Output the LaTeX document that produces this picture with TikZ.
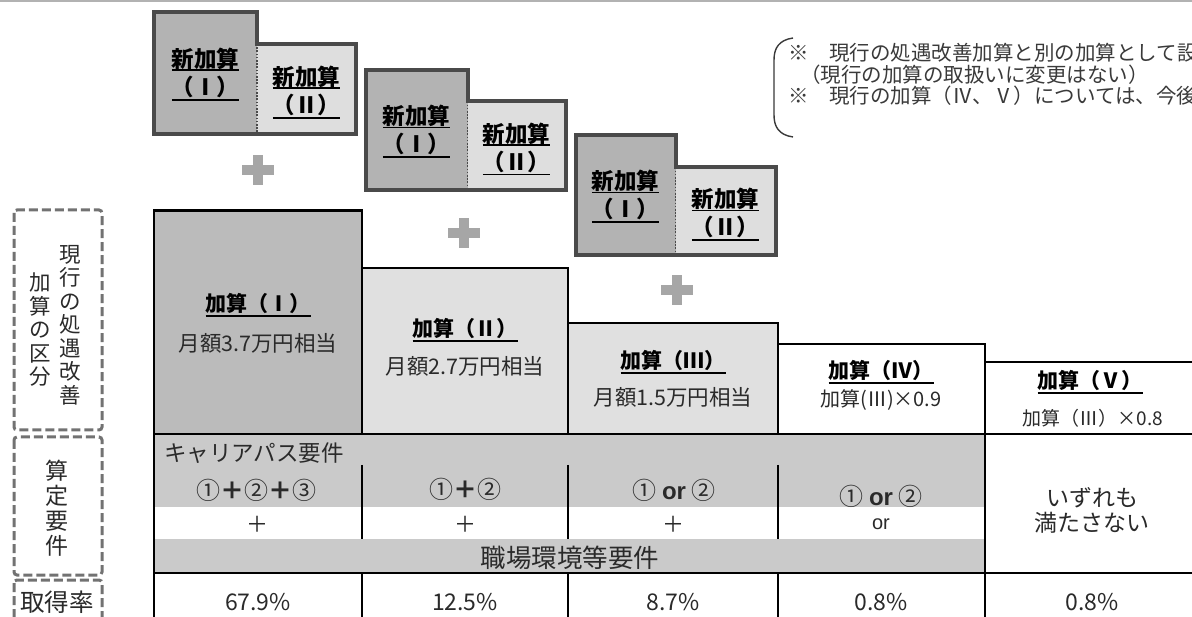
\documentclass[tikz,border=0pt]{standalone}
\usepackage{fontspec}
\setmainfont{Noto Sans CJK JP}
\newfontfamily\latinf{Liberation Sans}
\definecolor{dkfill}{HTML}{B3B3B3}
\definecolor{ltfill}{HTML}{DEDEDE}
\definecolor{gbord}{HTML}{4A4A4A}
\definecolor{band}{HTML}{CACACA}
\definecolor{plusc}{HTML}{A6A6A6}
\definecolor{dashc}{HTML}{727272}
\definecolor{txt}{HTML}{2A2A2A}
\definecolor{notec}{HTML}{3A3A3A}
\definecolor{boxI}{HTML}{BBBBBB}
\definecolor{boxL}{HTML}{E0E0E0}
\newcommand\fsz[2]{\fontsize{#1}{#2}\selectfont}
% underline with a heavier rule: #1 = drop below baseline, #2 = text
\newcommand\uln[2]{\setbox0\hbox{#2}\leavevmode\rlap{\vrule height -#1 depth \dimexpr #1+1.7pt\relax width \wd0}\box0}
\tikzset{
  newlbl/.style={font=\bfseries\fsz{22.5}{28}, align=center, inner sep=0pt, text=black},
  ttl/.style={font=\bfseries\fsz{21}{24}, inner sep=0pt, text=black},
  subl/.style={font=\fsz{21.5}{24}, inner sep=0pt, text=txt},
  cell/.style={font=\fsz{22}{25}, inner sep=0pt, text=txt, align=center},
  circ/.style={font=\fsz{24}{26}, inner sep=0pt, text=txt},
  grpbord/.style={draw=gbord, line width=4pt, line join=miter},
  mainbox/.style={draw=black, line width=2.8pt},
  rulel/.style={draw=black, line width=2.8pt},
  dashbox/.style={draw=dashc, line width=3pt, dash pattern=on 9pt off 4pt, rounded corners=3pt},
  vlabel/.style={font=\fsz{21.5}{23.5}, align=center, inner sep=0pt, text=txt},
  notel/.style={font=\fsz{20.5}{22}, anchor=west, inner sep=0pt, text=notec},
  plusbar/.style={fill=plusc},
}
% L, S, R, T, T2, B, name
\newcommand\addgroup[7]{%
  \fill[dkfill] (#1,#4) rectangle (#2,#6);
  \fill[ltfill] (#2,#5) rectangle (#3,#6);
  \draw[gbord, line width=1.6pt, dash pattern=on 1.6pt off 1.6pt] (#2,#5) -- (#2,#6);
  \draw[grpbord] (#1,#4) -- (#2,#4) -- (#2,#5) -- (#3,#5) -- (#3,#6) -- (#1,#6) -- cycle;
  \node[newlbl] (#7a) at ({(#1+#2)/2},{(#4+#6)/2+1}) {\uln{2pt}{新加算}\\\uln{3.5pt}{（Ⅰ）}};
  \node[newlbl] (#7b) at ({(#2+#3)/2},{(#5+#6)/2+3}) {\uln{2pt}{新加算}\\\uln{3.5pt}{（Ⅱ）}};
}
\newcommand\bigplus[2]{%
  \fill[plusbar] ({#1-16},{#2-5}) rectangle ({#1+16},{#2+5});
  \fill[plusbar] ({#1-5},{#2-15}) rectangle ({#1+5},{#2+15});
}
\begin{document}
\begin{tikzpicture}[x=1pt,y=-1pt]
\useasboundingbox (0,0) rectangle (1192,617);
\clip (0,0) rectangle (1192,617);
\fill[white] (0,0) rectangle (1192,617);
\draw[gray!60, line width=1.5pt] (0,0.8) -- (1192,0.8);

% new addition groups
\addgroup{154}{257}{356}{12}{44}{134.5}{ga}
\addgroup{365.5}{467.5}{565.5}{70.5}{101.5}{190.5}{gb}
\addgroup{575.5}{675.5}{775.5}{135.5}{167.5}{255.5}{gc}

\bigplus{258}{170}
\bigplus{464}{233}
\bigplus{677}{290}

% current addition boxes
\draw[mainbox, fill=boxI] (154,210.5) rectangle (362,434);
\draw[mainbox, fill=boxL] (362,268) rectangle (568,434);
\draw[mainbox, fill=boxL] (568,323) rectangle (778,434);
\draw[mainbox, fill=white] (778,344) rectangle (985,434);
\draw[mainbox, fill=white] (985,362) rectangle (1200,434);

\node[ttl] (t1) at (258,305) {\uln{3.5pt}{加算（Ⅰ）}};
\node[subl] (s1) at (258,343) {月額3.7万円相当};
\node[ttl] (t2) at (465,330) {\uln{3.5pt}{加算（Ⅱ）}};
\node[subl] (s2) at (465,366) {月額2.7万円相当};
\node[ttl] (t3) at (673,362) {\uln{3.5pt}{加算（Ⅲ）}};
\node[subl] (s3) at (673,397) {月額1.5万円相当};
\node[ttl] (t4) at (881,372) {\uln{3.5pt}{加算（Ⅳ）}};
\node[subl, font=\fsz{20}{24}] (s4) at (881,400) {加算(Ⅲ)×0.9};
\node[ttl] (t5) at (1090,382) {\uln{3.5pt}{加算（Ⅴ）}};
\node[subl, font=\fsz{19}{23}] (s5) at (1093,418) {加算（Ⅲ）×0.8};

% requirement row
\fill[band] (154,434) rectangle (985,507);
\fill[band] (154,539) rectangle (985,573);
\draw[rulel] (154,434) -- (1200,434);
\draw[rulel] (154,573) -- (1200,573);
\draw[rulel] (154,434) -- (154,620);
\draw[rulel] (985,434) -- (985,620);
\foreach \cx in {362,568,778} {
  \draw[rulel] (\cx,465) -- (\cx,539);
  \draw[rulel] (\cx,573) -- (\cx,620);
}

\node[cell, anchor=west, font=\fsz{22.5}{25}] (cp) at (164,453) {キャリアパス要件};
\node[circ] (r1) at (256,490) {①{\bfseries ＋}②{\bfseries ＋}③};
\node[circ] (r2) at (465,489) {①{\bfseries ＋}②};
\node[circ] (r3) at (674,490) {① {\latinf\bfseries or} ②};
\node[circ] (r4) at (881,496) {① {\latinf\bfseries or} ②};
\node[cell] (p1) at (257,524) {＋};
\node[cell] (p2) at (465,524) {＋};
\node[cell] (p3) at (673,524) {＋};
\node[cell, font=\latinf\fsz{20}{24}] (o4) at (881,524) {or};
\node[cell, font=\fsz{25.5}{27}] (env) at (570,558) {職場環境等要件};
\node[cell, font=\fsz{23}{25}] (none) at (1092,510) {いずれも\\満たさない};

% acquisition rates
\node[cell, font=\fsz{23}{25}] (q1) at (258,602) {67.9\%};
\node[cell, font=\fsz{23}{25}] (q2) at (465,602) {12.5\%};
\node[cell, font=\fsz{23}{25}] (q3) at (673,602) {8.7\%};
\node[cell, font=\fsz{23}{25}] (q4) at (881,602) {0.8\%};
\node[cell, font=\fsz{23}{25}] (q5) at (1092,602) {0.8\%};

% left labels
\draw[dashbox] (14,210) rectangle (102,430);
\draw[dashbox] (14,437) rectangle (102,575);
\draw[dashbox] (14,580) rectangle (102,650);
\node[vlabel] (lab1r) at (70,325) {現\\行\\の\\処\\遇\\改\\善};
\node[vlabel] (lab1l) at (40,330) {加\\算\\の\\区\\分};
\node[vlabel, font=\fsz{23}{25}] (lab2) at (57,508) {算\\定\\要\\件};
\node[vlabel, font=\fsz{24.5}{26}] (lab3) at (57,602) {取得率};

% note
\draw[notec, line width=1.4pt] (793,38) .. controls (779,40) and (774,48) .. (774,60) -- (774,115) .. controls (774,127) and (779,135) .. (793,137);
\node[notel] (n1) at (788,53) {※　現行の処遇改善加算と別の加算として設};
\node[notel] (n2) at (800,75) {（現行の加算の取扱いに変更はない）};
\node[notel] (n3) at (788,96) {※　現行の加算（Ⅳ、Ⅴ）については、今後};
\end{tikzpicture}
\end{document}
